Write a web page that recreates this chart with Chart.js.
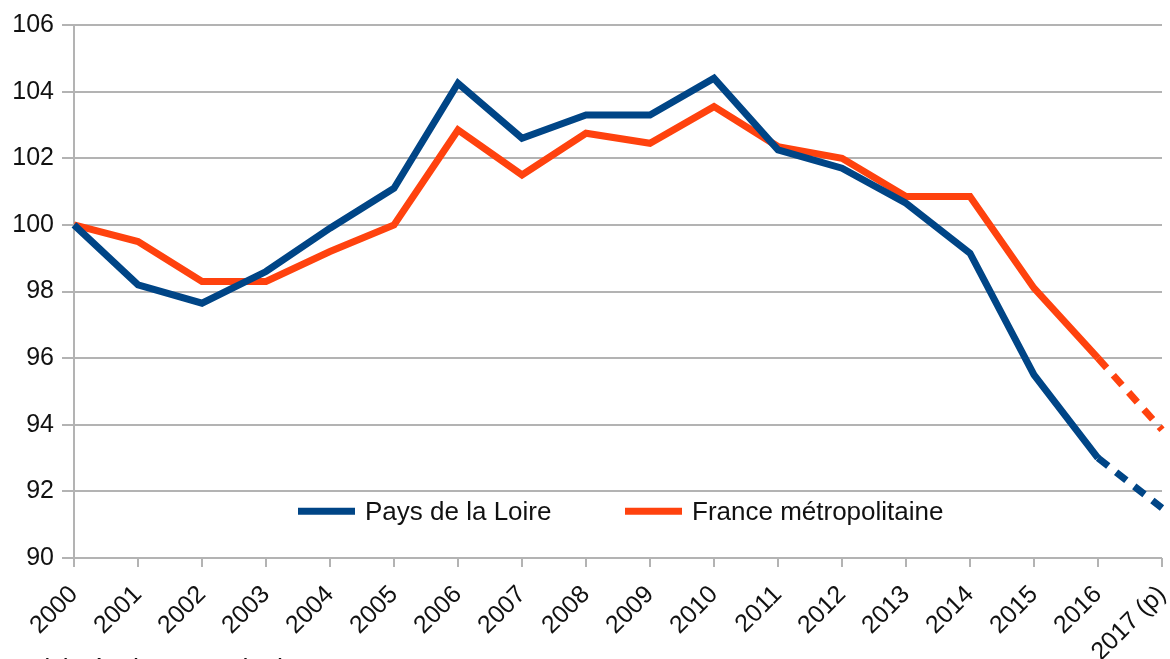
<!DOCTYPE html>
<html>
<head>
<meta charset="utf-8">
<script src="https://cdn.jsdelivr.net/npm/chart.js@4"></script>
<style>
  html, body { margin: 0; padding: 0; background: #fff; }
  #wrap { width: 1170px; height: 659px; position: relative; }
</style>
</head>
<body>
<div id="wrap"><canvas id="chart" width="1170" height="659"></canvas></div>
<script>
// Data (index, base 100 in 2000)
const years = ['2000', '2001', '2002', '2003', '2004', '2005', '2006', '2007', '2008',
  '2009', '2010', '2011', '2012', '2013', '2014', '2015', '2016', '2017 (p)'];
const paysDeLaLoire = [100, 98.2, 97.65, 98.6, 99.9, 101.1, 104.25, 102.6, 103.3,
  103.3, 104.4, 102.25, 101.7, 100.65, 99.15, 95.5, 93.0, 91.5];
const franceMetro = [100, 99.5, 98.3, 98.3, 99.2, 100, 102.85, 101.5, 102.75,
  102.45, 103.55, 102.35, 102.0, 100.85, 100.85, 98.1, 96.0, 93.85];
const yTicks = [90, 92, 94, 96, 98, 100, 102, 104, 106];

const FONT = '"Liberation Sans", Arial, sans-serif';
const BLUE = '#004586';
const ORANGE = '#ff420e';
const lastIdx = years.length - 1;

// provisional year drawn dashed
const dashLast = ctx => ctx.p1DataIndex === lastIdx ? [13, 10] : undefined;

// legend sits inside the plot, near the bottom + cut footnote
const insideLegend = {
  id: 'insideLegend',
  afterDraw(chart) {
    const c = chart.ctx;
    const y = chart.scales.y.getPixelForValue(91.4);
    c.save();
    c.font = '26px ' + FONT;
    c.textBaseline = 'middle';
    let x = 298;
    chart.data.datasets.forEach((ds, i) => {
      c.strokeStyle = ds.borderColor;
      c.lineWidth = 7;
      c.beginPath();
      c.moveTo(x, y);
      c.lineTo(x + 57, y);
      c.stroke();
      c.fillStyle = '#111';
      c.fillText(ds.label, x + 67, y + 1);
      x += 327;
    });
    c.textBaseline = 'alphabetic';
    c.fillStyle = '#111';
    c.font = '27px ' + FONT;
    c.fillText('(p) résultats provisoires', 40, 678);
    c.restore();
  }
};

const ctx = document.getElementById('chart').getContext('2d');
new Chart(ctx, {
  type: 'line',
  data: {
    labels: years,
    datasets: [
      {
        label: 'Pays de la Loire',
        data: paysDeLaLoire,
        borderColor: BLUE,
        backgroundColor: BLUE,
        borderWidth: 7,
        pointRadius: 0,
        tension: 0,
        borderJoinStyle: 'miter',
        segment: { borderDash: dashLast }
      },
      {
        label: 'France métropolitaine',
        data: franceMetro,
        borderColor: ORANGE,
        backgroundColor: ORANGE,
        borderWidth: 7,
        pointRadius: 0,
        tension: 0,
        borderJoinStyle: 'miter',
        segment: { borderDash: dashLast }
      }
    ]
  },
  options: {
    responsive: false,
    animation: false,
    layout: { padding: { top: 25, right: 8, left: 0, bottom: 0 } },
    plugins: {
      legend: { display: false },
      tooltip: { enabled: false }
    },
    scales: {
      x: {
        offset: false,
        grid: { display: true, drawOnChartArea: false, color: '#b3b3b3', lineWidth: 2, tickLength: 9 },
        border: { display: false },
        ticks: {
          color: '#111',
          font: { family: FONT, size: 25 },
          minRotation: 45,
          maxRotation: 45,
          autoSkip: false,
          padding: 13
        },
        afterFit(scale) {
          scale.height = 101;
          scale.paddingLeft = 0;
          scale.paddingRight = 0;
        }
      },
      y: {
        min: 90,
        max: 106,
        afterBuildTicks(scale) { scale.ticks = yTicks.map(v => ({ value: v })); },
        grid: { color: '#b3b3b3', lineWidth: 2, tickLength: 12 },
        border: { display: true, color: '#b3b3b3', width: 2 },
        ticks: {
          color: '#111',
          font: { family: FONT, size: 25 },
          padding: 8
        },
        afterFit(scale) { scale.width = 74; }
      }
    }
  },
  plugins: [insideLegend]
});
</script>
</body>
</html>
